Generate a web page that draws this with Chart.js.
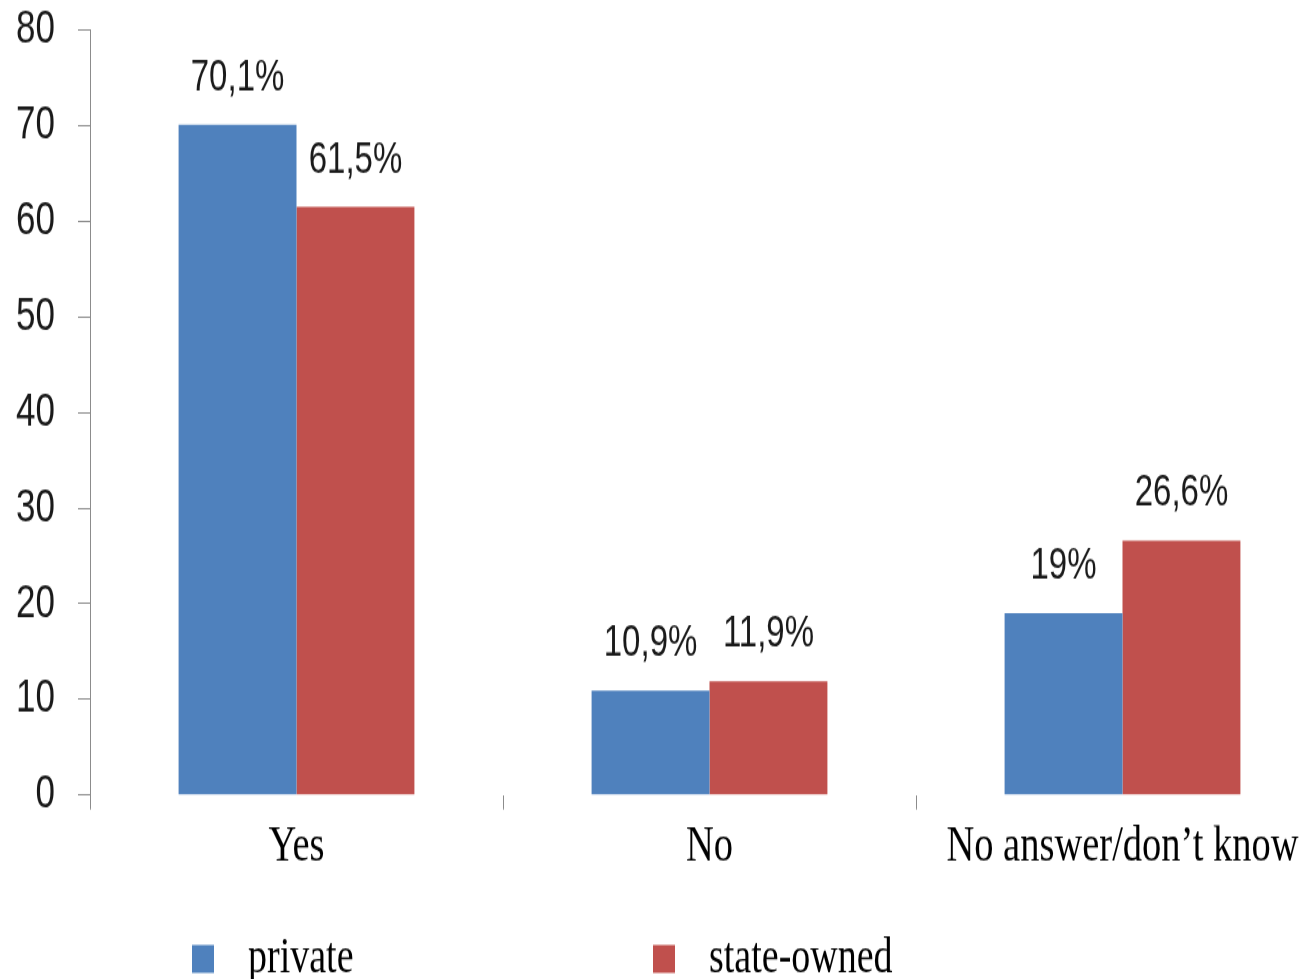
<!DOCTYPE html>
<html lang="en">
<head>
    <meta charset="UTF-8">
    <title>Private vs state-owned</title>
    <script src="https://cdn.jsdelivr.net/npm/chart.js"></script>
    <style>
        html, body {
            margin: 0;
            padding: 0;
            background: #fff;
            overflow: hidden;
        }
        .page {
            width: 1315px;
            height: 979px;
            overflow: hidden;
            position: relative;
        }
        /* the original picture is stretched vertically, so the whole chart is too */
        .wrap {
            position: absolute;
            left: 0;
            top: 0;
            width: 1340px;
            height: 736px;
            transform: scaleY(1.33);
            transform-origin: 0 0;
        }
    </style>
</head>
<body>
    <div class="page">
        <div class="wrap">
            <canvas id="chartCanvas" width="1340" height="736"></canvas>
        </div>
    </div>

    <script>
        const categories = ['Yes', 'No', 'No answer/don\u2019t know'];
        const seriesNames = ['private', 'state-owned'];
        const privateValues = [70.1, 10.9, 19];
        const stateValues = [61.5, 11.9, 26.6];
        const yTicks = [0, 10, 20, 30, 40, 50, 60, 70, 80];

        const blue = '#4F81BD';
        const red = '#C0504D';
        const axisGray = '#8c8c8c';

        // value labels above each bar, e.g. "70,1%"
        const barLabels = {
            id: 'barLabels',
            afterDatasetsDraw(chart) {
                const ctx = chart.ctx;
                ctx.save();
                ctx.font = '33px "Liberation Sans", Arial, sans-serif';
                ctx.fillStyle = '#1a1a1a';
                ctx.textAlign = 'center';
                ctx.textBaseline = 'alphabetic';
                chart.data.datasets.forEach((ds, i) => {
                    chart.getDatasetMeta(i).data.forEach((bar, j) => {
                        const txt = String(ds.data[j]).replace('.', ',') + '%';
                        ctx.fillText(txt, bar.x, bar.y - 26);
                    });
                });
                ctx.restore();
            }
        };

        // legend drawn by hand to get the wide spacing of the original
        const bottomLegend = {
            id: 'bottomLegend',
            afterDraw(chart) {
                const ctx = chart.ctx;
                const starts = [192, 653];
                ctx.save();
                ctx.font = '38px "Liberation Serif", "Times New Roman", serif';
                ctx.textAlign = 'left';
                ctx.textBaseline = 'alphabetic';
                chart.data.datasets.forEach((ds, i) => {
                    ctx.fillStyle = ds.backgroundColor;
                    ctx.fillRect(starts[i], 710.5, 22, 21);
                    ctx.fillStyle = '#000';
                    ctx.fillText(ds.label, starts[i] + 56, 731);
                });
                ctx.restore();
            }
        };

        const ctx = document.getElementById('chartCanvas').getContext('2d');
        new Chart(ctx, {
            type: 'bar',
            data: {
                labels: categories,
                datasets: [
                    { label: seriesNames[0], data: privateValues, backgroundColor: blue },
                    { label: seriesNames[1], data: stateValues, backgroundColor: red }
                ]
            },
            options: {
                responsive: false,
                animation: false,
                devicePixelRatio: 1,
                categoryPercentage: 0.571,
                barPercentage: 1,
                layout: { padding: { left: 0, right: 11, top: 22.6, bottom: 78.3 } },
                plugins: {
                    legend: { display: false },
                    tooltip: { enabled: false }
                },
                scales: {
                    x: {
                        offset: true,
                        afterFit: s => {
                            s.height = 60;
                            s.paddingLeft = 0;
                            s.paddingRight = 0;
                        },
                        border: { display: false },
                        grid: {
                            offset: true,
                            drawOnChartArea: false,
                            drawTicks: true,
                            tickLength: 11,
                            color: axisGray
                        },
                        ticks: {
                            padding: 5,
                            color: '#000',
                            font: { family: '"Liberation Serif", "Times New Roman", serif', size: 38.5 }
                        }
                    },
                    y: {
                        min: 0,
                        max: 80,
                        afterFit: s => {
                            s.width = 90;
                            s.paddingTop = 0;
                            s.paddingBottom = 0;
                        },
                        afterBuildTicks: s => { s.ticks = yTicks.map(v => ({ value: v })); },
                        border: { display: true, color: axisGray, width: 1 },
                        grid: {
                            drawOnChartArea: false,
                            drawTicks: true,
                            tickLength: 12,
                            color: axisGray
                        },
                        ticks: {
                            padding: 23,
                            color: '#1a1a1a',
                            font: { family: '"Liberation Sans", Arial, sans-serif', size: 35 }
                        }
                    }
                }
            },
            plugins: [barLabels, bottomLegend]
        });
    </script>
</body>
</html>
